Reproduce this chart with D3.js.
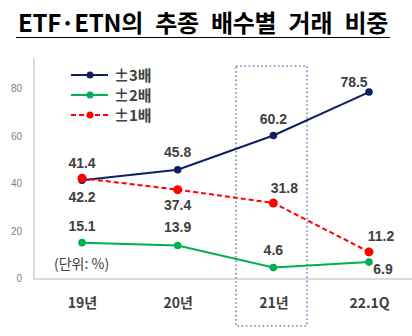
<!DOCTYPE html>
<html><head><meta charset="utf-8">
<script src="https://cdn.jsdelivr.net/npm/d3@7"></script>
<style>body{margin:0;background:#fff;}svg{display:block;}</style>
</head><body>
<script>
const categories = ["19년","20년","21년","22.1Q"];
const seriesNames = ["±3배","±2배","±1배"];
const x3 = [41.4,45.8,60.2,78.5];
const x2 = [15.1,13.9,4.6,6.9];
const x1 = [42.2,37.4,31.8,11.2];
const yTicks = [0,20,40,60,80];

const W=412,H=336;
const svg=d3.select("body").append("svg").attr("width",W).attr("height",H);
const font="'Noto Sans CJK KR','Noto Sans',sans-serif";

// title
const title=svg.append("text").attr("x",18).attr("y",32)
  .attr("font-family",font).attr("font-weight","bold").attr("font-size",24).attr("fill","#000")
  .attr("letter-spacing",-0.3)
  .text("ETF·ETN의 추종 배수별 거래 비중");
const tl=title.node().getComputedTextLength();
title.attr("word-spacing",Math.max(0,(370-tl)/4));
svg.append("line").attr("x1",16).attr("x2",390).attr("y1",37.5).attr("y2",37.5).attr("stroke","#000").attr("stroke-width",1.2);

const y=d3.scaleLinear().domain([0,80]).range([278.5,88.5]);
const x=d3.scalePoint().domain(categories).range([82,369]);

// axis
const yAxis=d3.axisLeft(y).tickValues(yTicks).tickSize(0).tickPadding(12);
const ga=svg.append("g").attr("transform","translate(34,0)").call(yAxis);
ga.select(".domain").remove();
ga.selectAll("text").attr("font-family","'Liberation Sans',Arial,sans-serif").attr("font-size",10).attr("fill","#7f7f7f");
svg.append("line").attr("x1",34).attr("x2",34).attr("y1",58).attr("y2",279).attr("stroke","#d0d0d0").attr("stroke-width",1.5);
svg.append("line").attr("x1",34).attr("x2",412).attr("y1",279).attr("y2",279).attr("stroke","#d0d0d0").attr("stroke-width",1.5);

// highlight box
svg.append("rect").attr("x",236).attr("y",66).attr("width",71).attr("height",260)
  .attr("fill","none").attr("stroke","#8fa2c8").attr("stroke-width",2.2).attr("stroke-dasharray","1.6 2.6");

// x labels
const gx=svg.append("g").attr("transform","translate(0,279)").call(d3.axisBottom(x).tickSize(0).tickPadding(19));
gx.select(".domain").remove();
gx.selectAll("text").attr("font-family",font).attr("font-weight","bold").attr("font-size",14).attr("fill","#404040");

const series=[
  {name:seriesNames[0],vals:x3,color:"#0f2061",dash:null},
  {name:seriesNames[1],vals:x2,color:"#00b050",dash:null},
  {name:seriesNames[2],vals:x1,color:"#ff0000",dash:"5 3"}
];
const line=d3.line().x((d,i)=>x(categories[i])).y(d=>y(d));
series.forEach(s=>{
  svg.append("path").datum(s.vals).attr("d",line).attr("fill","none").attr("stroke",s.color)
    .attr("stroke-width",2).attr("stroke-dasharray",s.dash);
  svg.selectAll(null).data(s.vals).enter().append("circle")
    .attr("cx",(d,i)=>x(categories[i])).attr("cy",d=>y(d)).attr("r",s===series[2]?4.5:3.8).attr("fill",s.color);
});

// legend
series.forEach((s,i)=>{
  const ly=75+i*20;
  svg.append("line").attr("x1",71).attr("x2",108).attr("y1",ly).attr("y2",ly).attr("stroke",s.color).attr("stroke-width",2).attr("stroke-dasharray",s.dash);
  svg.append("circle").attr("cx",90).attr("cy",ly).attr("r",3.5).attr("fill",s.color);
  svg.append("text").attr("x",114).attr("y",ly+5.5).attr("font-family",font).attr("font-weight","bold").attr("font-size",15).attr("fill","#404040").text(s.name);
});

// data labels
const lab=(vals,offs)=>vals.forEach((v,i)=>{
  svg.append("text").attr("x",x(categories[i])+offs[i][0]).attr("y",y(v)+offs[i][1])
    .attr("text-anchor","middle").attr("font-family","'Liberation Sans',Arial,sans-serif").attr("font-weight","bold")
    .attr("font-size",14).attr("fill","#404040").text(v.toFixed(1));
});
lab(x3,[[0,-12],[0,-13],[0,-12],[-15,-5]]);
lab(x1,[[0,24],[0,20],[11,-10],[12,-11]]);
lab(x2,[[0,-12],[0,-13],[0,-13],[14,12]]);

svg.append("text").attr("x",54).attr("y",269).attr("font-family",font).attr("font-size",14).attr("fill","#404040").text("(단위: %)");
</script>
</body></html>
